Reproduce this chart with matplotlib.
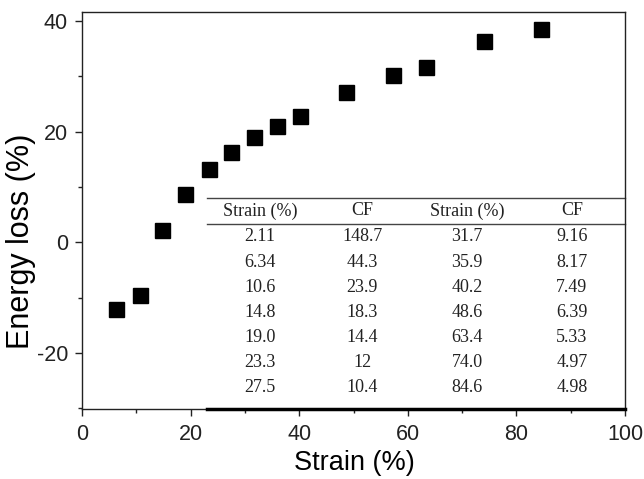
import matplotlib
matplotlib.use("Agg")
import matplotlib.pyplot as plt
from matplotlib.ticker import MultipleLocator
from matplotlib.lines import Line2D

plt.rcParams["axes.unicode_minus"] = False

strain = [6.34, 10.6, 14.8, 19.0, 23.3, 27.5, 31.7, 35.9, 40.2, 48.6, 57.3, 63.4, 74.0, 84.6]
energy_loss = [-12.1, -9.5, 2.2, 8.8, 13.2, 16.4, 19.1, 21.1, 22.9, 27.2, 30.3, 31.7, 36.3, 38.6]

table_header = ["Strain (%)", "CF", "Strain (%)", "CF"]
table_strain1 = ["2.11", "6.34", "10.6", "14.8", "19.0", "23.3", "27.5"]
table_cf1 = ["148.7", "44.3", "23.9", "18.3", "14.4", "12", "10.4"]
table_strain2 = ["31.7", "35.9", "40.2", "48.6", "63.4", "74.0", "84.6"]
table_cf2 = ["9.16", "8.17", "7.49", "6.39", "5.33", "4.97", "4.98"]

fig = plt.figure(figsize=(6.44, 4.79), dpi=100)
ax = fig.add_axes([82/644, 1-409/479, 543/644, 397/479])

ax.plot(strain, energy_loss, linestyle="none", marker="s", markersize=10.8,
        color="black", zorder=3)

ax.set_xlim(0, 100)
ax.set_ylim(-30.1, 41.6)
ax.xaxis.set_major_locator(MultipleLocator(20))
ax.xaxis.set_minor_locator(MultipleLocator(10))
ax.yaxis.set_major_locator(MultipleLocator(20))
ax.yaxis.set_minor_locator(MultipleLocator(10))
ax.tick_params(which="both", direction="out", top=False, right=False, width=1.0, colors="#222222")
ax.tick_params(which="major", length=5, labelsize=15.5)
ax.tick_params(axis="x", which="major", pad=6)
ax.tick_params(axis="y", which="major", pad=5)
ax.tick_params(which="minor", length=3)
for lab in ax.get_xticklabels() + ax.get_yticklabels():
    lab.set_family("Liberation Sans")
for sp in ax.spines.values():
    sp.set_linewidth(1.0)
    sp.set_color("#222222")

ax.set_xlabel("Strain (%)", family="Liberation Sans", fontsize=19.5, labelpad=2)
ax.set_ylabel("Energy loss (%)", family="Liberation Sans", fontsize=22, labelpad=2)
ax.xaxis.set_label_coords(272/543, -(463-409)/397)
ax.yaxis.set_label_coords(-(82-21)/543, (409-241)/397)
ax.xaxis.label.set_va("center")
ax.yaxis.label.set_va("center")

# table
x0 = 0.230
ax.add_line(Line2D([x0, 1.0], [0.531, 0.531], transform=ax.transAxes, color="#444444", lw=1.0, clip_on=False))
ax.add_line(Line2D([x0, 1.0], [0.466, 0.466], transform=ax.transAxes, color="#444444", lw=1.0, clip_on=False))
ax.add_line(Line2D([x0, 1.0], [0.0, 0.0], transform=ax.transAxes, color="black", lw=2.5, clip_on=False, zorder=4))

col_x = [0.328, 0.516, 0.709, 0.902]
tfont = dict(family="Liberation Serif", fontsize=13, ha="center", va="center", color="#222222")
for cx, h in zip(col_x, table_header):
    ax.text(cx, 0.499, h, transform=ax.transAxes, **tfont)
cols = [table_strain1, table_cf1, table_strain2, table_cf2]
row_step = 25.17 / 397
for cx, col in zip(col_x, cols):
    for i, v in enumerate(col):
        ax.text(cx, 0.4335 - i * row_step, v, transform=ax.transAxes, **tfont)

fig.savefig("out.png", dpi=100)
